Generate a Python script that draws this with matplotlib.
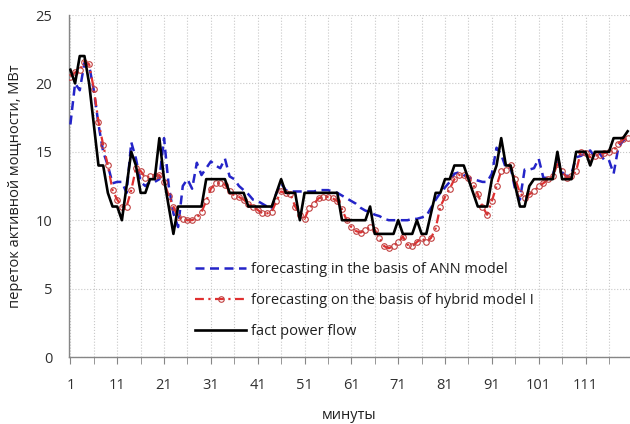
import numpy as np
import matplotlib
matplotlib.use("Agg")
import matplotlib.pyplot as plt

plt.rcParams['font.family'] = ['Open Sans', 'DejaVu Sans']

# minutes 1..120
minutes = np.arange(1, 121)

# fact power flow, MW
fact = [21, 20, 22, 22, 20, 17, 14, 14, 12, 11,
        11, 10, 12.5, 15, 14, 12, 12, 13, 13, 16,
        13, 11, 9, 11, 11, 11, 11, 11, 11, 13,
        13, 13, 13, 13, 12, 12, 12, 12, 11, 11,
        11, 11, 11, 11, 12, 13, 12, 12, 12, 10,
        12, 12, 12, 12, 12, 12, 12, 12, 10, 10,
        10, 10, 10, 10, 11, 9, 9, 9, 9, 9,
        10, 9, 9, 9, 10, 9, 9, 10.5, 12, 12,
        13, 13, 14, 14, 14, 13, 12, 11, 11, 11,
        13, 14, 16, 14, 14, 12.5, 11, 11, 12.5, 13,
        13, 13, 13, 13, 15, 13, 13, 13, 15, 15,
        15, 14, 15, 15, 15, 15, 16, 16, 16, 16.5]

# forecast, ANN model
ann = [17, 20, 19.5, 21.5, 21.3, 19.5, 17, 15, 14, 12.7,
       12.8, 12.8, 12, 15.7, 14.5, 12.8, 12.5, 12.8, 12.8, 13,
       16, 12.5, 10.5, 9.5, 12.5, 13, 12.3, 14.2, 13.3, 13.8,
       14.3, 14, 13.8, 14.5, 13.2, 13, 12.5, 12.2, 11.9, 11.5,
       11.4, 11.2, 11, 10.8, 12, 12.7, 12.2, 12.1, 12.1, 12.1,
       12.1, 12.1, 12.1, 12.2, 12.2, 12.2, 12.1, 12, 11.8, 11.6,
       11.4, 11.2, 10.9, 10.7, 10.6, 10.4, 10.3, 10.1, 10, 10,
       10, 10, 10, 10.1, 10.1, 10.2, 10.3, 10.9, 11.5, 12,
       12.4, 12.8, 13.4, 13.5, 13.3, 13.1, 13, 12.9, 12.8, 12.8,
       13.4, 15.3, 14.8, 13.8, 13.9, 12.2, 11.5, 13.7, 13.7, 13.8,
       14.5, 13.1, 13.1, 13.3, 14.4, 13.5, 13.2, 13.4, 14.6, 14.7,
       14.9, 15.1, 14.6, 14.9, 14.4, 14.4, 13.4, 15.3, 15.8, 16.1]

# forecast, hybrid model I
hybrid = [20.5, 20.8, 21, 21.6, 21.4, 19.6, 17.2, 15.5, 14, 12.2,
          11.5, 11, 11, 12.2, 13.8, 13.6, 13.1, 13.2, 13.2, 13.3,
          12.8, 11.8, 11, 10.2, 10.1, 10, 10, 10.2, 10.6, 11.4,
          12.3, 12.7, 12.7, 12.6, 12.1, 11.8, 11.7, 11.5, 11.2, 11,
          10.75, 10.5, 10.5, 10.6, 11.4, 12.1, 12, 11.9, 11, 10.4,
          10.1, 10.9, 11.2, 11.6, 11.7, 11.7, 11.6, 11.4, 10.8, 10,
          9.5, 9.2, 9.1, 9.3, 9.5, 9.3, 8.7, 8.1, 7.95, 8.1,
          8.4, 8.8, 8.2, 8.1, 8.4, 8.7, 8.4, 8.7, 9.4, 11,
          11.7, 12.3, 13, 13.3, 13.3, 13.1, 12.6, 11.9, 11, 10.4,
          11.4, 12.5, 13.6, 13.7, 14, 13, 12, 11.6, 11.9, 12.1,
          12.5, 12.7, 13, 13.2, 14.1, 13.6, 13.1, 13.2, 13.6, 15,
          14.9, 14.6, 14.7, 14.8, 14.9, 15, 15.1, 15.6, 15.9, 16]

labels_x = [1, 11, 21, 31, 41, 51, 61, 71, 81, 91, 101, 111]

fig = plt.figure(figsize=(6.3, 4.24), dpi=100)
ax = fig.add_axes([0.1095, 0.158, 0.8905, 0.8066])

ax.plot(minutes, ann, color='#2424c8', lw=1.8, ls=(0, (3.6, 2.2)),
        label='forecasting in the basis of ANN model', zorder=3)
ax.plot(minutes, hybrid, color='#e03030', lw=1.6, ls=(0, (4, 2, 1, 2)),
        marker='o', ms=4, mfc='none', mec='#c04040', mew=0.8,
        label='forecasting on the basis of hybrid model I', zorder=4)
ax.plot(minutes, fact, color='black', lw=1.9,
        label='fact power flow', zorder=5)

ax.set_xlim(0.7, 120.5)
ax.set_ylim(0, 25)
ax.set_yticks([0, 5, 10, 15, 20, 25])
ax.set_xticks(labels_x)
ax.set_xticks(np.arange(6, 121, 10), minor=True)
ax.grid(True, which='both', color='#c8c8c8', ls=':', lw=0.8)
ax.set_axisbelow(True)

for s in ['top', 'right']:
    ax.spines[s].set_visible(False)
for s in ['left', 'bottom']:
    ax.spines[s].set_color('#868686')
    ax.spines[s].set_linewidth(1.0)

ax.tick_params(axis='y', length=0, pad=12, labelsize=10.5, labelcolor='#303030')
ax.tick_params(axis='x', which='both', length=5, color='#868686', direction='out')
ax.tick_params(axis='x', which='major', pad=10, labelsize=10.5, labelcolor='#303030')

ax.set_ylabel('переток активной мощности, МВт', fontsize=10.5, labelpad=9, color='#202020')
ax.set_xlabel('минуты', fontsize=10.5, labelpad=11, color='#202020')

leg = ax.legend(loc='upper left', bbox_to_anchor=(0.215, 0.295), frameon=False,
                fontsize=10.5, handlelength=3.5, handletextpad=0.3,
                labelspacing=1.1, borderaxespad=0, labelcolor='#202020')

fig.savefig('out.png', dpi=100)
